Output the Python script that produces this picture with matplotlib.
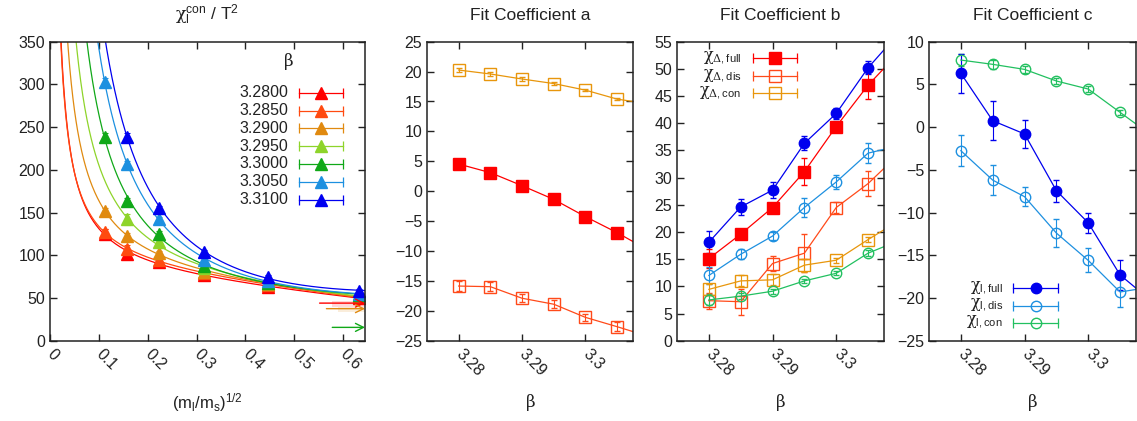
import numpy as np
import matplotlib
matplotlib.use("Agg")
from matplotlib import pyplot as plt

plt.rcParams['font.family'] = ['Liberation Sans', 'DejaVu Sans']
plt.rcParams['mathtext.fontset'] = 'custom'
plt.rcParams['mathtext.rm'] = 'Liberation Sans'
plt.rcParams['mathtext.it'] = 'Liberation Sans'
plt.rcParams['mathtext.sf'] = 'DejaVu Serif'
plt.rcParams['mathtext.default'] = 'regular'
plt.rcParams['font.size'] = 11.5
plt.rcParams['text.color'] = '#222222'

nan = np.nan

# ---- left panel: chi_l^con / T^2 against sqrt(ml/ms), one set per beta
sqrt_mlms = [0.1118, 0.1581, 0.2236, 0.3162, 0.4472, 0.6325]
beta_labels = ['3.2800', '3.2850', '3.2900', '3.2950', '3.3000', '3.3050', '3.3100']
beta_colors = ['#ff0000', '#ff4a10', '#e08a10', '#8ed42a', '#10a818', '#1c90e0', '#0000f0']

chi_3280 = [125, 102, 92, 77, 63, 50]
chi_3285 = [127, 107, 95, 79, 65, 51]
chi_3290 = [152, 123, 103, 81, 66, 52]
chi_3295 = [nan, 142, 115, 85, 67, 53]
chi_3300 = [239, 164, 125, 88, 68, 54]
chi_3305 = [303, 207, 142, 95, 70, 55]
chi_3310 = [nan, 239, 155, 104, 75, 58]

err_3280 = [6, 3, 2, 2, 2, 2]
err_3285 = [4, 5, 2, 2, 2, 2]
err_3290 = [3, 3, 2, 2, 2, 2]
err_3295 = [0, 6, 3, 2, 2, 2]
err_3300 = [4, 3, 3, 2, 2, 2]
err_3305 = [4, 3, 3, 2, 2, 2]
err_3310 = [0, 4, 3, 2, 2, 2]

chi_sets = [chi_3280, chi_3285, chi_3290, chi_3295, chi_3300, chi_3305, chi_3310]
err_sets = [err_3280, err_3285, err_3290, err_3295, err_3300, err_3305, err_3310]

# chiral limit estimates (arrows at the right edge)
lim_y = [44, 37.5, 15.6]
lim_lo = [40, 34, 15.6]
lim_hi = [47, 40, 15.6]
lim_x0 = [0.552, 0.566, 0.578]
lim_band_x0 = [0.578, 0.589, 0.6]
lim_colors = ['#ff0000', '#e08a10', '#10a818']

# ---- fit coefficients vs beta
beta_fit = [3.28, 3.285, 3.29, 3.295, 3.30, 3.305, 3.31]

a_dfull = [4.54, 3.1, 0.92, -1.37, -4.26, -6.94, -9.9]
a_dfull_err = [0.3, 0.3, 0.3, 0.3, 0.3, 0.3, 0.3]
a_ddis = [-15.86, -15.97, -17.9, -18.9, -21.1, -22.66, -24.3]
a_ddis_err = [0.8, 0.8, 0.7, 0.7, 0.6, 0.8, 0.8]
a_dcon = [20.26, 19.6, 18.76, 18.0, 16.9, 15.4, 14.6]
a_dcon_err = [0.4, 0.4, 0.4, 0.2, 0.2, 0.2, 0.2]

b_dfull = [15.1, 19.6, 24.5, 31.1, 39.4, 47.0, 53.2]
b_dfull_err = [1.8, 0.8, 0.8, 2.5, 0.8, 2.6, 2.5]
b_ddis = [7.36, 7.17, 14.2, 16.1, 24.5, 28.9, 34.5]
b_ddis_err = [1.5, 2.4, 1.3, 3.5, 1.0, 2.3, 2.5]
b_dcon = [9.44, 11.0, 11.2, 13.9, 14.8, 18.6, 22.2]
b_dcon_err = [1.0, 1.0, 1.0, 1.2, 0.5, 0.5, 0.5]
b_lfull = [18.1, 24.6, 27.7, 36.3, 41.8, 50.2, 56.8]
b_lfull_err = [2.0, 1.5, 1.5, 1.3, 1.0, 1.2, 1.2]
b_ldis = [12.0, 15.9, 19.25, 24.5, 29.2, 34.5, 35.9]
b_ldis_err = [1.5, 0.9, 0.8, 1.8, 1.3, 1.8, 1.8]
b_lcon = [7.5, 8.2, 9.1, 11.0, 12.4, 16.1, 18.5]
b_lcon_err = [1.0, 0.5, 0.5, 0.4, 0.4, 0.5, 0.5]

c_lfull = [6.3, 0.75, -0.8, -7.44, -11.2, -17.3, -20.4]
c_lfull_err = [2.3, 2.3, 1.6, 1.3, 1.2, 1.8, 1.8]
c_ldis = [-2.76, -6.2, -8.14, -12.4, -15.6, -19.3, -18.7]
c_ldis_err = [1.8, 1.8, 1.1, 1.6, 1.4, 1.8, 1.8]
c_lcon = [7.85, 7.35, 6.76, 5.4, 4.46, 1.73, -1.0]
c_lcon_err = [0.7, 0.5, 0.4, 0.3, 0.3, 0.3, 0.3]

col_dfull = '#ff0000'
col_ddis = '#ff4a1a'
col_dcon = '#e8960c'
col_lfull = '#0000ee'
col_ldis = '#1e90e0'
col_lcon = '#22c060'

# ---------------------------------------------------------------
W, H = 1137, 421
fig = plt.figure(figsize=(W / 100, H / 100), dpi=100)


def add_ax(x0, x1):
    return fig.add_axes([x0 / W, 1 - 340.7 / H, (x1 - x0) / W, 299 / H])


def gp_style(ax):
    ax.tick_params(direction='in', top=True, right=True, length=5, width=1,
                   colors='#222222')
    ax.tick_params(axis='x', pad=8)
    for s in ax.spines.values():
        s.set_linewidth(1.1)
        s.set_color('#222222')


def gp_key(ax, x_text, x0, x1, ys, labels, colors, markers, filled, ms):
    xm = 0.5 * (x0 + x1)
    for y, lab, c, mk, f in zip(ys, labels, colors, markers, filled):
        ax.text(x_text, y, lab, transform=ax.transAxes, ha='right', va='center')
        ax.plot([x0, x1], [y, y], transform=ax.transAxes, color=c, lw=0.9,
                marker='|', ms=7, mew=0.9, clip_on=False)
        ax.plot([xm], [y], transform=ax.transAxes, ls='none', marker=mk, ms=ms,
                color=c, mfc=c if f else 'none', mec=c, mew=1, clip_on=False)


def series(ax, y, e, c, mk, filled, ms=8):
    ax.errorbar(beta_fit, y, yerr=e, color=c, lw=0.9, marker=mk, ms=ms,
                mfc=c if filled else 'none', mec=c, mew=1, elinewidth=0.8,
                capsize=2.5, capthick=0.8)


def title(ax, s):
    ax.text(0.5, 1.089, s, transform=ax.transAxes, ha='center', va='center',
            fontsize=12.5)


def xlabel(ax, s):
    ax.text(0.5, -0.208, s, transform=ax.transAxes, ha='center', va='center',
            fontsize=12)


ax1 = add_ax(50, 365)
ax2 = add_ax(427, 633)
ax3 = add_ax(677, 884)
ax4 = add_ax(929, 1136)
for ax in (ax1, ax2, ax3, ax4):
    gp_style(ax)

# ---- panel 1
x = np.array(sqrt_mlms)
xs = np.linspace(0.004, 0.645, 600)
for c, yv, ev in zip(beta_colors, chi_sets, err_sets):
    yv = np.array(yv, float)
    ev = np.array(ev, float)
    m = ~np.isnan(yv)
    A = np.column_stack([1 / x[m], np.ones(m.sum()), x[m]])
    coef = np.linalg.lstsq(A, yv[m], rcond=None)[0]
    ax1.plot(xs, coef[0] / xs + coef[1] + coef[2] * xs, color=c, lw=0.9)
    ax1.errorbar(x[m], yv[m], yerr=ev[m], fmt='^', ms=8, color=c, mec=c,
                 elinewidth=0.8, capsize=2.5, capthick=0.8)

for y0, lo, hi, x0, xb, c in zip(lim_y, lim_lo, lim_hi, lim_x0, lim_band_x0, lim_colors):
    if hi > lo:
        ax1.fill_between([xb, 0.645], lo, hi, color=c, alpha=0.15, lw=0)
    ax1.annotate('', xy=(0.645, y0), xytext=(x0, y0),
                 arrowprops=dict(arrowstyle='->,head_length=0.5,head_width=0.25',
                                 color=c, lw=1, shrinkA=0, shrinkB=0))

ax1.set_xlim(0, 0.645)
ax1.set_ylim(0, 350)
ax1.set_yticks(np.arange(0, 351, 50))
ax1.set_xticks([0, 0.1, 0.2, 0.3, 0.4, 0.5, 0.6],
               ['0', '0.1', '0.2', '0.3', '0.4', '0.5', '0.6'],
               rotation=-45, ha='left', va='center', rotation_mode='anchor')
title(ax1, r'$\mathsf{χ}_l^{con}$ / T$^2$')
xlabel(ax1, r'(m$_l$/m$_s$)$^{1/2}$')

ax1.text(0.757, 0.935, r'$\mathsf{β}$', transform=ax1.transAxes,
         ha='center', va='center', fontsize=12)
ys = [0.829 - 0.0595 * i for i in range(len(beta_labels))]
gp_key(ax1, 0.756, 0.790, 0.930, ys, beta_labels, beta_colors,
       ['^'] * 7, [True] * 7, 8)

# ---- panels 2-4 common x axis
for ax in (ax2, ax3, ax4):
    ax.set_xlim(3.275, 3.3075)
    ax.set_xticks([3.28, 3.29, 3.30], ['3.28', '3.29', '3.3'],
                  rotation=-45, ha='left', va='center', rotation_mode='anchor')
    xlabel(ax, r'$\mathsf{β}$')

# panel 2
series(ax2, a_dcon, a_dcon_err, col_dcon, 's', False)
series(ax2, a_dfull, a_dfull_err, col_dfull, 's', True)
series(ax2, a_ddis, a_ddis_err, col_ddis, 's', False)
ax2.set_ylim(-25, 25)
ax2.set_yticks(np.arange(-25, 26, 5))
title(ax2, 'Fit Coefficient a')

# panel 3
series(ax3, b_lfull, b_lfull_err, col_lfull, 'o', True, 7.5)
series(ax3, b_dfull, b_dfull_err, col_dfull, 's', True)
series(ax3, b_ldis, b_ldis_err, col_ldis, 'o', False, 7.5)
series(ax3, b_ddis, b_ddis_err, col_ddis, 's', False)
series(ax3, b_dcon, b_dcon_err, col_dcon, 's', False)
series(ax3, b_lcon, b_lcon_err, col_lcon, 'o', False, 7.5)
ax3.set_ylim(0, 55)
ax3.set_yticks(np.arange(0, 56, 5))
title(ax3, 'Fit Coefficient b')
gp_key(ax3, 0.3125, 0.366, 0.579, [0.9445, 0.8853, 0.8274],
       [r'$\mathsf{χ}_{\mathsf{Δ},full}$', r'$\mathsf{χ}_{\mathsf{Δ},dis}$',
        r'$\mathsf{χ}_{\mathsf{Δ},con}$'],
       [col_dfull, col_ddis, col_dcon], ['s', 's', 's'], [True, False, False], 8)

# panel 4
series(ax4, c_lcon, c_lcon_err, col_lcon, 'o', False, 7.5)
series(ax4, c_lfull, c_lfull_err, col_lfull, 'o', True, 7.5)
series(ax4, c_ldis, c_ldis_err, col_ldis, 'o', False, 7.5)
ax4.set_ylim(-25, 10)
ax4.set_yticks(np.arange(-25, 11, 5))
title(ax4, 'Fit Coefficient c')
gp_key(ax4, 0.357, 0.406, 0.623, [0.175, 0.117, 0.060],
       [r'$\mathsf{χ}_{l,full}$', r'$\mathsf{χ}_{l,dis}$', r'$\mathsf{χ}_{l,con}$'],
       [col_lfull, col_ldis, col_lcon], ['o', 'o', 'o'], [True, False, False], 7.5)

fig.savefig('out.png', dpi=100)
